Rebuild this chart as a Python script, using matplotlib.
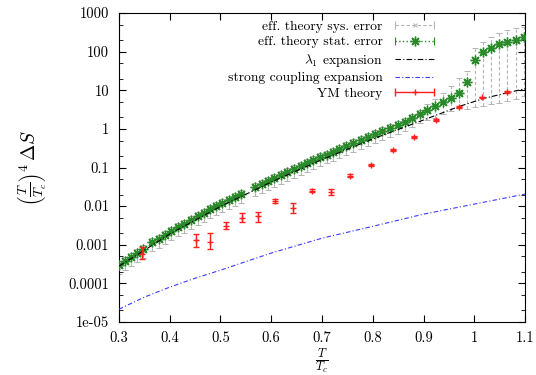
import numpy as np
import matplotlib
matplotlib.use("Agg")
import matplotlib.pyplot as plt
from matplotlib.lines import Line2D
from matplotlib.legend_handler import HandlerLine2D, HandlerTuple
from matplotlib.ticker import FixedLocator, FixedFormatter, LogLocator, NullFormatter, NullLocator

plt.rcParams['font.family'] = 'serif'
plt.rcParams['font.serif'] = ['cmr10', 'DejaVu Serif']
plt.rcParams['mathtext.fontset'] = 'cm'
plt.rcParams['axes.unicode_minus'] = False

# effective theory points (T/Tc, (T/Tc)^4 dS)
gx = [0.300, 0.312, 0.324, 0.335, 0.347,
      0.365, 0.378, 0.391, 0.403, 0.416, 0.429, 0.442, 0.455, 0.467, 0.479,
      0.491, 0.503, 0.516, 0.529, 0.541,
      0.568, 0.581, 0.594, 0.606, 0.619, 0.632, 0.645, 0.658, 0.670, 0.683,
      0.696, 0.709, 0.722, 0.734, 0.748, 0.762, 0.776, 0.790, 0.804, 0.819,
      0.834, 0.849, 0.864, 0.878, 0.893, 0.907, 0.923, 0.938, 0.954, 0.970,
      0.986, 1.001, 1.017, 1.033, 1.049, 1.065, 1.082, 1.098]
gy = [2.96e-4, 3.76e-4, 4.77e-4, 6.05e-4, 7.69e-4,
      1.17e-3, 1.40e-3, 1.77e-3, 2.25e-3, 2.86e-3, 3.42e-3, 4.34e-3, 5.51e-3, 6.59e-3, 8.36e-3,
      1.00e-2, 1.20e-2, 1.43e-2, 1.71e-2, 2.05e-2,
      0.0310, 0.0371, 0.0444, 0.0531, 0.0635, 0.0760, 0.0909, 0.109, 0.130, 0.156,
      0.186, 0.216, 0.251, 0.300, 0.358, 0.429, 0.513, 0.614, 0.733, 0.877,
      1.05, 1.25, 1.50, 1.90, 2.42, 3.07, 3.90, 4.95, 6.28, 8.46,
      16.3, 60.6, 97.7, 124, 157, 177, 200, 239]
# statistical error (relative)
g_stat = [0.04] * 45 + [0.05, 0.05, 0.06, 0.06, 0.07, 0.1, 0.1, 0.08, 0.08, 0.08, 0.08, 0.08, 0.08]
# systematic band: lower / upper edges (relative to the point)
sys_lo = [0.6] * 45 + [0.55, 0.5, 0.5, 0.45, 0.4, 0.2, 0.06, 0.04, 0.035, 0.03, 0.03, 0.03, 0.03]
sys_hi = [1.25] * 45 + [1.4, 1.5, 1.7, 2.0, 2.4, 1.9, 2.05, 1.8, 1.9, 1.9, 2.05, 2.1, 1.8]

# lambda_1 expansion
lam_x = [0.30, 0.35, 0.40, 0.50, 0.60, 0.70, 0.80, 0.90, 0.97, 1.02, 1.07, 1.10]
lam_y = [2.8e-4, 7.2e-4, 1.9e-3, 0.0098, 0.042, 0.16, 0.55, 1.7, 3.8, 6.2, 8.9, 11.0]

# strong coupling expansion
sc_x = [0.30, 0.35, 0.40, 0.45, 0.50, 0.60, 0.70, 0.80, 0.90, 1.00, 1.10]
sc_y = [2.15e-5, 4.4e-5, 8.0e-5, 1.36e-4, 2.2e-4, 6.1e-4, 1.48e-3, 3.0e-3, 6.2e-3, 1.13e-2, 2.05e-2]

# YM theory (lattice)
ym_x = [0.346, 0.451, 0.479, 0.510, 0.542, 0.573, 0.607, 0.643, 0.680, 0.717, 0.755,
        0.796, 0.839, 0.882, 0.925, 0.970, 1.016, 1.065]
ym_y = [5.9e-4, 1.3e-3, 1.2e-3, 3.0e-3, 5.0e-3, 5.5e-3, 0.0135, 0.0087, 0.025, 0.0234, 0.061,
        0.115, 0.29, 0.62, 1.69, 3.67, 6.5, 9.1]
ym_lo = [4.2e-4, 8.5e-4, 7.6e-4, 2.5e-3, 3.9e-3, 3.9e-3, 0.0122, 0.0068, 0.023, 0.019, 0.057,
         0.108, 0.27, 0.58, 1.6, 3.5, 6.2, 8.7]
ym_hi = [8.5e-4, 1.86e-3, 2.0e-3, 3.9e-3, 6.5e-3, 7.1e-3, 0.0150, 0.0118, 0.027, 0.0285, 0.066,
         0.122, 0.31, 0.66, 1.78, 3.85, 6.8, 9.5]

yticks = [1e-5, 1e-4, 1e-3, 1e-2, 1e-1, 1, 10, 100, 1000]
ytick_labels = ['1e-05', '0.0001', '0.001', '0.01', '0.1', '1', '10', '100', '1000']
xticks = [0.3, 0.4, 0.5, 0.6, 0.7, 0.8, 0.9, 1.0, 1.1]
xtick_labels = ['0.3', '0.4', '0.5', '0.6', '0.7', '0.8', '0.9', '1', '1.1']

grey = '#b4b4b4'
green = '#2a8a2a'
blue = '#3a3aff'
red = '#ff2020'

fig = plt.figure(figsize=(5.36, 3.75), dpi=100)
ax = fig.add_axes([0.222, 0.1413, 0.7575, 0.824])

gx_a = np.array(gx)
gy_a = np.array(gy)

# systematic error bars
lo = gy_a - gy_a * np.array(sys_lo)
hi = gy_a * np.array(sys_hi) - gy_a
eb = ax.errorbar(gx_a, gy_a, yerr=[lo, hi], fmt='x', color=grey, ms=3, mew=0.7,
                 elinewidth=0.8, capsize=2.5, capthick=0.8, zorder=1)
for c in eb[2]:
    c.set_linestyle((0, (3, 2)))

# statistical error bars
st = gy_a * np.array(g_stat)
ax.errorbar(gx_a, gy_a, yerr=st, fmt='none', ecolor=green,
            elinewidth=0.8, capsize=2.5, capthick=0.8, zorder=2)
ax.plot(gx_a, gy_a, ls='none', marker=(8, 2, 0), ms=7, mew=1.0, color=green, zorder=3)

ax.plot(lam_x, lam_y, color='black', lw=0.8, ls=(0, (5, 2, 1, 2)), zorder=4)
ax.plot(sc_x, sc_y, color=blue, lw=0.8, ls=(0, (4, 2, 1, 2)), zorder=4)

ym_y_a = np.array(ym_y)
ax.errorbar(ym_x, ym_y, yerr=[ym_y_a - np.array(ym_lo), np.array(ym_hi) - ym_y_a],
            fmt='+', color=red, ms=5, mew=1.0, elinewidth=1.0, capsize=2.5, capthick=1.0, zorder=5)

ax.set_yscale('log')
ax.set_xlim(0.3, 1.1)
ax.set_ylim(1e-5, 1000)
ax.yaxis.set_major_locator(FixedLocator(yticks))
ax.yaxis.set_major_formatter(FixedFormatter(ytick_labels))
ax.yaxis.set_minor_locator(LogLocator(base=10, subs=[2, 5]))
ax.yaxis.set_minor_formatter(NullFormatter())
ax.xaxis.set_major_locator(FixedLocator(xticks))
ax.xaxis.set_major_formatter(FixedFormatter(xtick_labels))
ax.xaxis.set_minor_locator(NullLocator())
ax.tick_params(which='both', direction='in', top=True, right=True, labelsize=10.5)
ax.tick_params(axis='x', pad=7)
ax.tick_params(axis='y', pad=7)
ax.tick_params(which='major', length=5)
ax.tick_params(which='minor', length=3)

ax.set_xlabel(r'$\frac{T}{T_c}$', fontsize=12.5, labelpad=1)
ax.set_ylabel(r'$\left(\frac{T}{T_c}\right)^4\,\Delta S$', fontsize=14, labelpad=14)

# gnuplot-like legend entries: horizontal bar with caps, marker in the middle
h_grey = (Line2D([], [], color=grey, ls=(0, (3, 2)), lw=0.8, marker='|', ms=6, mew=0.8),
          Line2D([], [], color=grey, ls='none', marker='x', ms=3, mew=0.7))
h_green = (Line2D([], [], color=green, ls=':', lw=1.0, marker='|', ms=6, mew=0.8),
           Line2D([], [], color=green, ls='none', marker=(8, 2, 0), ms=7, mew=1.0))
h_black = Line2D([], [], color='black', lw=0.8, ls=(0, (5, 2, 1, 2)))
h_blue = Line2D([], [], color=blue, lw=0.8, ls=(0, (4, 2, 1, 2)))
h_red = (Line2D([], [], color=red, ls='-', lw=1.0, marker='|', ms=6, mew=1.0),
         Line2D([], [], color=red, ls='none', marker='+', ms=5, mew=1.0))
hmap = {h_grey[1]: HandlerLine2D(numpoints=1), h_green[1]: HandlerLine2D(numpoints=1),
        h_red[1]: HandlerLine2D(numpoints=1), tuple: HandlerTuple(ndivide=1, pad=0)}
leg = ax.legend([h_grey, h_green, h_black, h_blue, h_red],
                ['eff. theory sys. error', 'eff. theory stat. error',
                 r'$\lambda_1$ expansion', 'strong coupling expansion', 'YM theory'],
                handler_map=hmap, numpoints=2, loc='upper right', bbox_to_anchor=(0.8, 0.995),
                markerfirst=False, frameon=False, fontsize=9.8, handlelength=3.5,
                handletextpad=0.6, labelspacing=0.24, borderaxespad=0)

fig.savefig('out.png', dpi=100)
